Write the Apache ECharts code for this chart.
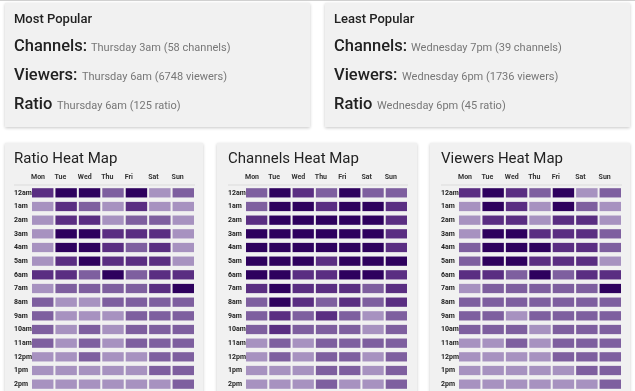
<!DOCTYPE html>
<html><head><meta charset="utf-8">
<script src="https://cdn.jsdelivr.net/npm/echarts@6/dist/echarts.min.js"></script>
<style>html,body{margin:0;padding:0;background:#fff}#c{width:635px;height:391px}</style>
</head><body><div id="c"></div>
<script>
const days = ['Mon','Tue','Wed','Thu','Fri','Sat','Sun'];
const hours = ['12am','1am','2am','3am','4am','5am','6am','7am','8am','9am','10am','11am','12pm','1pm','2pm'];
// intensity levels (1 = lightest, 4 = darkest), rows = hours, cols = days
const ratioLevels = [
 [3,4,4,2,4,1,2],[1,3,2,1,3,1,1],[1,3,3,1,2,2,1],[1,4,4,3,3,3,1],[1,4,4,3,2,3,1],
 [1,3,4,3,3,3,1],[3,3,2,4,2,3,3],[1,2,2,2,2,3,4],[2,1,1,2,2,2,2],[2,1,1,1,2,2,2],
 [2,1,2,1,2,2,2],[2,1,2,1,2,2,2],[1,1,2,1,1,2,2],[1,1,1,1,1,2,2],[1,1,1,1,1,1,2]];
const channelLevels = [
 [2,4,3,2,4,2,2],[2,4,4,3,4,4,3],[3,4,4,4,4,4,3],[4,4,4,4,4,4,3],[4,4,4,4,4,4,3],
 [4,4,4,3,4,4,4],[4,4,3,3,4,4,3],[3,4,3,3,3,2,3],[2,4,3,2,3,2,3],[2,3,2,3,2,1,2],
 [2,3,2,2,2,1,2],[1,2,1,2,2,2,2],[1,2,1,2,2,1,2],[1,1,1,2,2,1,2],[1,1,1,2,1,1,2]];
const viewerLevels = [
 [3,4,3,2,4,1,2],[1,4,3,1,4,2,1],[1,3,3,1,3,3,1],[1,4,4,3,3,3,2],[2,4,4,4,3,3,2],
 [2,4,4,3,3,3,1],[3,3,2,4,2,3,3],[1,2,2,2,2,2,4],[2,2,2,2,2,2,2],[2,2,1,2,2,2,2],
 [2,2,2,1,2,2,2],[1,1,2,1,2,2,2],[1,1,1,1,2,2,2],[1,1,1,1,1,2,2],[1,1,1,1,1,1,2]];
const mostPopular = [['Channels:','Thursday 3am (58 channels)'],['Viewers:','Thursday 6am (6748 viewers)'],['Ratio','Thursday 6am (125 ratio)']];
const leastPopular = [['Channels:','Wednesday 7pm (39 channels)'],['Viewers:','Wednesday 6pm (1736 viewers)'],['Ratio','Wednesday 6pm (45 ratio)']];
const mapTitles = ['Ratio Heat Map','Channels Heat Map','Viewers Heat Map'];

const palette = {1:'#a792c0',2:'#7e5f9f',3:'#5a2e82',4:'#2e015e'};
const FONT = 'Roboto, "Noto Sans", sans-serif';

const chart = echarts.init(document.getElementById('c'), null, {renderer:'canvas'});
const panels = [
  {data: ratioLevels, left: 31, right: 195, labelX: 14, card:[5,203]},
  {data: channelLevels, left: 245, right: 408, labelX: 228, card:[217,417]},
  {data: viewerLevels, left: 458, right: 622, labelX: 441, card:[430,630]}
];
const gridTop = 186, gridH = 205;

const grids=[], xAxes=[], yAxes=[], series=[], graphics=[];
graphics.push({type:'rect', shape:{x:0,y:0,width:635,height:1}, style:{fill:'#d0d0d0'}, z:-1});
[[5,310],[325,630]].forEach(([a,b])=>{
  graphics.push({type:'rect', shape:{x:a,y:3,width:b-a,height:124}, style:{fill:'#f1f1f1', shadowBlur:3, shadowColor:'rgba(0,0,0,0.22)', shadowOffsetY:1}, z:-1});
});
panels.forEach(p=>{
  graphics.push({type:'rect', shape:{x:p.card[0],y:143,width:p.card[1]-p.card[0],height:260}, style:{fill:'#f1f1f1', shadowBlur:3, shadowColor:'rgba(0,0,0,0.22)', shadowOffsetY:1}, z:-1});
});
function header(x0, title, rows, secX){
  graphics.push({type:'text', x:x0, y:20, style:{text:title, font:'500 13px '+FONT, fill:'#222', verticalAlign:'middle'}});
  const base=[52,81,110];
  rows.forEach((r,i)=>{
    graphics.push({type:'text', x:x0, y:base[i]-5.4, style:{text:r[0], font:'500 16.5px '+FONT, fill:'#222', verticalAlign:'middle'}});
    graphics.push({type:'text', x:secX[i], y:base[i]-3.7, style:{text:r[1], font:'400 11px '+FONT, fill:'#777', verticalAlign:'middle'}});
  });
}
header(14,'Most Popular',mostPopular,[91,82,57]);
header(334,'Least Popular',leastPopular,[411,402,377]);

panels.forEach((p,i)=>{
  graphics.push({type:'text', x:p.labelX, y:159, style:{text:mapTitles[i], font:'400 15px '+FONT, fill:'#222', verticalAlign:'middle'}});
  graphics.push({type:'rect', shape:{x:p.labelX, y:184.5, width:p.right-p.labelX, height:1}, style:{fill:'#dcdcdc'}});
  grids.push({left:p.left, top:gridTop, width:p.right-p.left, height:gridH});
  xAxes.push({type:'category', gridIndex:i, data:days, show:false});
  xAxes.push({type:'category', gridIndex:i, data:days.concat(['']), boundaryGap:false, position:'top',
    axisLine:{show:false}, axisTick:{show:false}, splitLine:{show:false},
    axisLabel:{interval:0, align:'left', margin:5, fontSize:7, fontWeight:'bold', color:'#333', fontFamily:FONT}});
  yAxes.push({type:'category', gridIndex:i, data:hours, inverse:true,
    axisLine:{show:false}, axisTick:{show:false}, splitLine:{show:false},
    axisLabel:{interval:0, align:'left', margin:p.left-p.labelX, fontSize:7, fontWeight:'bold', color:'#222', fontFamily:FONT}});
  const d=[];
  p.data.forEach((row,h)=>row.forEach((v,dd)=>d.push([dd,h,v])));
  series.push({type:'custom', xAxisIndex:i*2, yAxisIndex:i, data:d, silent:true,
    renderItem:function(params, api){
      const c=api.coord([api.value(0), api.value(1)]);
      const s=api.size([1,1]);
      return {type:'rect', shape:{x:c[0]-s[0]/2+1, y:c[1]-s[1]/2+2.2, width:s[0]-2, height:s[1]-4.4},
        style:{fill:palette[api.value(2)]}};
    }});
});

chart.setOption({
  animation:false,
  backgroundColor:'#ffffff',
  grid:grids, xAxis:xAxes, yAxis:yAxes, series:series, graphic:graphics
});
</script></body></html>
